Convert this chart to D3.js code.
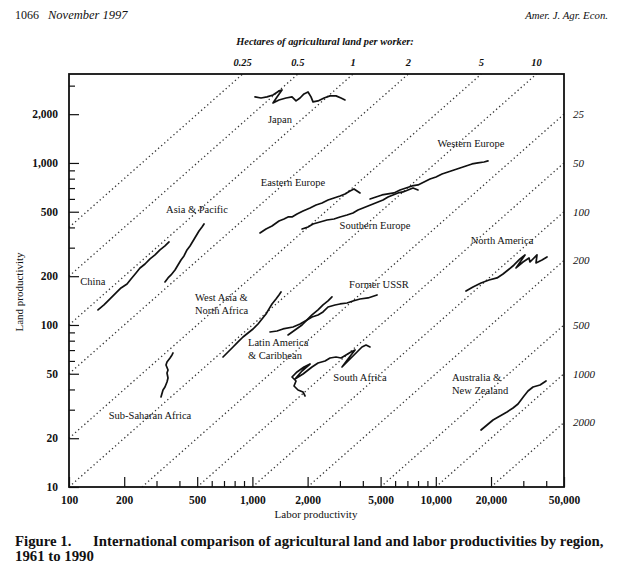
<!DOCTYPE html>
<html><head><meta charset="utf-8">
<script src="https://cdnjs.cloudflare.com/ajax/libs/d3/7.8.5/d3.min.js"></script>
<style>
body{margin:0;background:#fff;}
svg text{font-family:"Liberation Serif","Times New Roman",serif;fill:#111;}
</style></head><body>
<svg id="chart" width="618" height="570"></svg>
<script>
// ---- data: [labor productivity, land productivity] ----
const japan = [[1033,2556],[1114,2518],[1201,2556],[1295,2629],[1396,2783],[1450,2822],[1362,2556],[1295,2347],[1396,2448],[1525,2518],[1644,2556],[1729,2414],[1818,2518],[1911,2667],[2010,2743],[2087,2556],[2140,2380],[2279,2414],[2458,2518],[2650,2593],[2857,2593],[3042,2518],[3198,2448]];
const china = [[143.9,123.8],[155.1,132.9],[167.3,144.7],[180.4,157.6],[192.1,169.2],[207.2,179.1],[217.8,192.3],[231.9,209.4],[243.9,224.8],[259.7,237.9],[276.5,255.6],[294.4,270.5],[313.4,290.4],[333.7,307.4],[351.1,325.3]];
const asiaPacific = [[333.7,184.3],[346.6,195.1],[359.9,203.6],[378.4,218.5],[392.9,234.6],[408.0,251.9],[423.6,266.7],[439.9,290.4],[456.8,307.4],[474.4,330.0],[492.6,354.3],[511.5,380.4],[531.2,402.7],[544.7,420.3]];
const subSaharan = [[317.4,35.94],[325.5,39.70],[333.7,41.43],[342.2,44.47],[346.6,47.09],[342.2,50.54],[346.6,52.76],[338.0,56.64],[342.2,59.09],[355.5,62.56],[364.5,65.29],[369.1,67.18]];
const westAsia = [[691.4,63.45],[736.2,68.13],[783.9,73.14],[834.8,78.54],[888.7,84.32],[946.2,89.25],[1008,94.47],[1073,101.4],[1128,108.9],[1186,116.9],[1232,125.6],[1279,134.8],[1345,144.7],[1396,153.2],[1432,159.8]];
const formerUSSR = [[1247,90.5],[1362,91.8],[1468,94.5],[1665,97.2],[1818,101.4],[1985,107.4],[2113,112.0],[2279,115.3],[2427,120.3],[2584,129.1],[2821,132.9],[3004,134.8],[3280,136.7],[3535,140.7],[3861,144.7],[4269,146.8],[4780,153.2]];
const latinAmerica = [[1564,86.8],[1707,93.1],[1864,100.0],[1985,107.4],[2113,115.3],[2279,123.8],[2427,132.9],[2584,140.7],[2716,148.9]];
const southAfrica = [[1936,36.45],[1888,38.58],[1773,39.70],[1686,42.02],[1729,45.11],[1644,47.75],[1751,51.28],[1911,55.05],[2062,57.43],[1864,52.0],[1707,46.42],[1888,49.84],[2113,55.05],[2279,58.27],[2489,59.97],[2650,62.56],[2857,63.45],[3042,62.56],[3239,65.29],[3448,68.13],[3627,70.08],[3321,61.68],[3081,55.05],[3406,61.68],[3719,68.13],[3958,73.14],[4165,75.23],[4378,73.14]];
const easternEurope = [[1100,369.8],[1186,391.4],[1279,408.5],[1396,438.5],[1487,451.1],[1564,464.2],[1644,464.2],[1751,484.4],[1888,505.4],[2062,527.4],[2223,550.4],[2397,566.3],[2584,591.0],[2786,608.2],[3004,625.6],[3198,643.6],[3406,671.7],[3581,691.1],[3719,671.7],[3861,652.9]];
const southernEurope = [[1864,391.4],[2010,402.7],[2140,420.3],[2337,432.3],[2552,444.7],[2786,451.1],[3004,464.2],[3280,477.5],[3535,491.3],[3765,512.8],[4010,527.4],[4269,542.6],[4546,558.5],[4840,574.5],[5154,591.0],[5488,616.8],[5843,634.6],[6222,652.9],[6625,662.2],[7054,681.3],[7511,700.9],[7998,681.3]];
const westernEurope = [[4378,599.5],[4720,616.8],[5090,634.6],[5488,643.6],[5918,652.9],[6381,681.3],[6880,700.9],[7418,721.1],[7998,731.4],[8625,763.1],[9299,796.3],[10025,819.3],[10810,855.0],[11655,879.6],[12567,905.0],[13550,931.3],[14608,958.2],[15753,985.8],[16985,1000],[18313,1014],[19256,1029]];
const northAmerica = [[14608,162.1],[15948,171.6],[17641,181.7],[19506,189.6],[21566,195.1],[23253,206.4],[24757,218.5],[26700,234.6],[28790,255.6],[30648,270.5],[27370,224.8],[29890,244.8],[32227,259.3],[32634,244.8],[35630,270.5],[35186,241.4],[37933,251.9],[40400,263.0]];
const australiaNZ = [[17641,22.48],[19022,24.14],[20510,25.92],[22387,27.44],[24449,29.04],[26363,30.74],[28063,32.53],[29143,34.44],[30261,36.45],[31818,39.14],[33884,41.43],[37007,42.62],[39902,45.11]];

const regionSeries = [japan, china, asiaPacific, subSaharan, westAsia, formerUSSR, latinAmerica, southAfrica, easternEurope, southernEurope, westernEurope, northAmerica, australiaNZ];
const regionLabels = [["Japan"],["China"],["Asia & Pacific"],["Sub-Saharan Africa"],["West Asia &","North Africa"],["Former USSR"],["Latin America","& Caribbean"],["South Africa"],["Eastern Europe"],["Southern Europe"],["Western Europe"],["North America"],["Australia &","New Zealand"]];

const xTickLabels = [100,200,500,1000,2000,5000,10000,20000,50000];
const xMinorTicks = [300,400,600,700,800,900,3000,4000,6000,7000,8000,9000,30000,40000];
const yTickLabels = [10,20,50,100,200,500,1000,2000];
const yMinorTicks = [30,40,60,70,80,90,300,400,600,700,800,900,3000];
const hectaresTop = [0.25,0.5,1,2,5,10];
const hectaresRight = [25,50,100,200,500,1000,2000];

// ---- layout (label anchors in data space, alignment) ----
const labelAnchor = [[1414,1766],[135,176.6],[499,491],[276.5,26.3],[486,140.6],[4898,169],[946,74.1],[3861,45.1],[1665,721],[4662,391],[15555,1256],[22960,316],[12256,45.1]];
const labelAlign = ["middle","middle","middle","middle","start","middle","start","middle","middle","middle","middle","middle","start"];

const svg = d3.select("#chart");
const X0 = 69, X1 = 564, Y0 = 487, Y1 = 74;
const x = d3.scaleLog().domain([100, 50000]).range([X0, X1]);
const y = d3.scaleLog().domain([10, 3540]).range([Y0, Y1]);
const fmt = d3.format(",");

// header
svg.append("text").attr("x", 15).attr("y", 19).style("font-size", "12px").text("1066");
svg.append("text").attr("x", 48).attr("y", 19).style("font-size", "12.5px").style("font-style", "italic").text("November 1997");
svg.append("text").attr("x", 608).attr("y", 19).attr("text-anchor", "end").style("font-size", "10.8px").style("font-style", "italic").text("Amer. J. Agr. Econ.");

// diagonal iso-hectare lines
const line = d3.line().x(d => x(d[0])).y(d => y(d[1]));
const hAll = hectaresTop.concat(hectaresRight);
const diagG = svg.append("g");
hAll.forEach(h => {
  const l1 = Math.max(x.domain()[0], h * y.domain()[0]);
  const l2 = Math.min(x.domain()[1], h * y.domain()[1]);
  diagG.append("path").attr("d", line([[l1, l1 / h], [l2, l2 / h]]))
    .attr("fill", "none").attr("stroke", "#333").attr("stroke-width", 1.3)
    .attr("stroke-dasharray", "1.3,2.8");
});

// top hectare labels
svg.append("text").attr("x", 325).attr("y", 45).attr("text-anchor", "middle")
  .style("font-size", "10.4px").style("font-style", "italic").style("font-weight", "bold")
  .text("Hectares of agricultural land per worker:");
svg.append("g").selectAll("text").data(hectaresTop).join("text")
  .attr("x", h => x(h * y.domain()[1])).attr("y", 66).attr("text-anchor", "middle")
  .style("font-size", "10.5px").style("font-style", "italic").style("font-weight", "bold")
  .text(d => d);
// right hectare labels
svg.append("g").selectAll("text").data(hectaresRight).join("text")
  .attr("x", X1 + 9).attr("y", h => y(x.domain()[1] / h)).attr("dy", "0.35em")
  .style("font-size", "11px").style("font-style", "italic")
  .text(d => d);

// axes
function styleAxis(g) {
  g.select(".domain").remove();
  g.selectAll(".tick line").attr("stroke", "#111").attr("stroke-width", 1.2);
  g.selectAll(".tick text").style("font-size", "11.5px").style("font-weight", "bold");
}
svg.append("g").attr("transform", `translate(0,${Y0})`)
  .call(d3.axisBottom(x).tickValues(xTickLabels).tickFormat(fmt).tickSizeInner(-10).tickSizeOuter(0).tickPadding(9))
  .call(styleAxis);
svg.append("g").attr("transform", `translate(0,${Y0})`)
  .call(d3.axisBottom(x).tickValues(xMinorTicks).tickFormat("").tickSizeInner(-6).tickSizeOuter(0))
  .call(styleAxis);
svg.append("g").attr("transform", `translate(${X0},0)`)
  .call(d3.axisLeft(y).tickValues(yTickLabels).tickFormat(fmt).tickSizeInner(-10).tickSizeOuter(0).tickPadding(11))
  .call(styleAxis);
svg.append("g").attr("transform", `translate(${X0},0)`)
  .call(d3.axisLeft(y).tickValues(yMinorTicks).tickFormat("").tickSizeInner(-6).tickSizeOuter(0))
  .call(styleAxis);

// frame
svg.append("rect").attr("x", X0).attr("y", Y1).attr("width", X1 - X0).attr("height", Y0 - Y1)
  .attr("fill", "none").attr("stroke", "#111").attr("stroke-width", 1.8);

// axis titles
svg.append("text").attr("x", 316).attr("y", 518).attr("text-anchor", "middle").style("font-size", "11px").text("Labor productivity");
svg.append("text").attr("transform", "translate(23,292) rotate(-90)").attr("text-anchor", "middle").style("font-size", "11px").text("Land productivity");

// region paths
svg.append("g").selectAll("path").data(regionSeries).join("path")
  .attr("d", line).attr("fill", "none").attr("stroke", "#111")
  .attr("stroke-width", 1.7).attr("stroke-linejoin", "round").attr("stroke-linecap", "round");

// region labels
const lg = svg.append("g");
regionLabels.forEach((lines, i) => {
  const t = lg.append("text")
    .attr("x", x(labelAnchor[i][0])).attr("y", y(labelAnchor[i][1]))
    .attr("text-anchor", labelAlign[i]).style("font-size", "10.5px");
  lines.forEach((s, j) => {
    t.append("tspan").attr("x", x(labelAnchor[i][0])).attr("dy", j === 0 ? 0 : 13).text(s);
  });
});

// caption
const cap = svg.append("text").attr("y", 546).style("font-size", "14.8px").style("font-weight", "bold");
cap.append("tspan").attr("x", 15).text("Figure 1.");
cap.append("tspan").attr("x", 93).text("International comparison of agricultural land and labor productivities by region,");
svg.append("text").attr("x", 15).attr("y", 561).style("font-size", "14.8px").style("font-weight", "bold").text("1961 to 1990");
</script>
</body></html>
